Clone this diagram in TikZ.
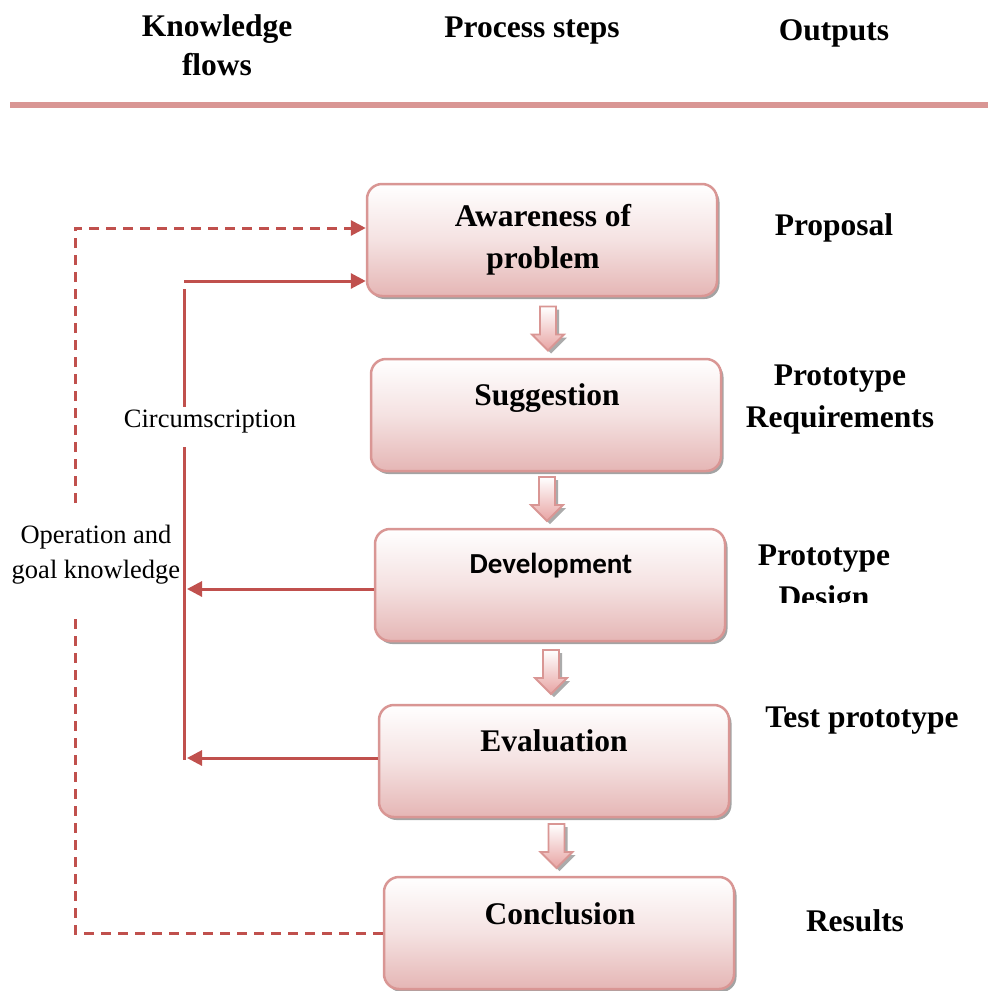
\documentclass[tikz,border=0pt]{standalone}
\usepackage{fontspec}
\setmainfont{Liberation Serif}
\newfontfamily\calibrifont{Carlito}
\usetikzlibrary{arrows.meta,calc,shadows}

\definecolor{rulepink}{RGB}{217,150,148}
\definecolor{flowred}{RGB}{192,80,77}
\definecolor{boxpink}{RGB}{229,182,181}

\tikzset{
  stepbox/.style={draw=rulepink, line width=2.5pt, rounded corners=15pt,
    top color=white, bottom color=boxpink, middle color=boxpink!40!white,
    minimum width=350pt, minimum height=112pt, inner sep=0pt,
    drop shadow={shadow xshift=2.5pt, shadow yshift=-3pt, fill=black!60, opacity=0.6}},
  boldtext/.style={font=\bfseries\fontsize{31.5pt}{42pt}\selectfont, align=center, inner sep=0pt},
  headtext/.style={font=\bfseries\fontsize{31.5pt}{39pt}\selectfont, align=center, inner sep=0pt},
  plaintext/.style={font=\fontsize{26.5pt}{35pt}\selectfont, align=center, inner sep=0pt},
  flow/.style={draw=flowred, line width=3pt},
  dashflow/.style={draw=flowred, line width=3pt, dash pattern=on 10pt off 7pt},
  tip/.style={-{Triangle[length=15pt,width=15pt]}},
  downblock/.pic={
    \path[draw=rulepink, line width=1.8pt, top color=white, bottom color=boxpink!90!red,
      drop shadow={shadow xshift=3pt, shadow yshift=-3pt, fill=black!60, opacity=0.55}]
      (-8,0) -- (8,0) -- (8,28) -- (16,28) -- (0,44) -- (-16,28) -- (-8,28) -- cycle;
  }
}

\begin{document}
\begin{tikzpicture}[x=1pt, y=-1pt]
\useasboundingbox (0,0) rectangle (988,991);
\clip (0,0) rectangle (988,991);

% column headings and rule
\node[headtext] (hk) at (217,45) {Knowledge\\flows};
\node[headtext] (hp) at (532,31) {Process steps};
\node[headtext] (ho) at (834,33) {Outputs};
\draw[rulepink, line width=6pt] (10,105) -- (988,105);

% process steps
\node[stepbox] (b1) at (542,240) {};
\node[boldtext] (t1) at (543,240) {Awareness of\\problem};
\node[stepbox] (b2) at (546,415) {};
\node[boldtext] (t2) at (547,398) {Suggestion};
\node[stepbox] (b3) at (550,585) {};
\node[font=\calibrifont\bfseries\fontsize{29pt}{35pt}\selectfont, inner sep=0pt] (t3) at (551,566) {Development};
\node[stepbox] (b4) at (554,761) {};
\node[boldtext] (t4) at (554,741) {Evaluation};
\node[stepbox] (b5) at (559,933) {};
\node[boldtext] (t5) at (560,914) {Conclusion};

% block arrows between steps
\pic at ($(b1.south)!0.5!(b2.north)+(4,-21)$) {downblock};
\pic at ($(b2.south)!0.5!(b3.north)+(-1,-23)$) {downblock};
\pic at ($(b3.south)!0.5!(b4.north)+(-1,-23)$) {downblock};
\pic at ($(b4.south)!0.5!(b5.north)+(0,-23)$) {downblock};

% outputs
\node[boldtext] (o1) at (834,228) {Proposal};
\node[boldtext] (o2) at (840,400) {Prototype\\Requirements};
\begin{scope}
  \clip (700,500) rectangle (988,602);
  \node[boldtext] (o3) at (824,580) {Prototype\\Design};
\end{scope}
\node[boldtext] (o4) at (862,721) {Test prototype};
\node[boldtext] (o5) at (855,921) {Results};

% knowledge flow labels
\node[plaintext] (circ) at (210,422) {Circumscription};
\node[plaintext] (opk) at (96,555) {Operation and\\goal knowledge};

% circumscription flow
\coordinate (cs0) at (184,281);
\coordinate (cs1) at (184,289);
\coordinate (cs2) at (184,407);
\coordinate (cs3) at (184,447);
\coordinate (cs4) at (184,760);
\draw[flow, tip] (cs0) -- ($(b1.west)+(0,41)$);
\draw[flow] (cs1) -- (cs2);
\draw[flow] (cs3) -- (cs4);
\draw[flow, tip] ($(b3.west)+(0,4)$) -- ($(b3.west -| cs4)+(3,4)$);
\draw[flow, tip] ($(b4.west)+(0,-3)$) -- ($(b4.west -| cs4)+(3,-3)$);

% operation and goal knowledge flow
\coordinate (kd1) at (75,503);
\coordinate (kd2) at (75,618);
\draw[dashflow, tip] (kd1) |- ($(b1.west)+(0,-12)$);
\draw[dashflow] (b5.west) -| (kd2);
\end{tikzpicture}
\end{document}
